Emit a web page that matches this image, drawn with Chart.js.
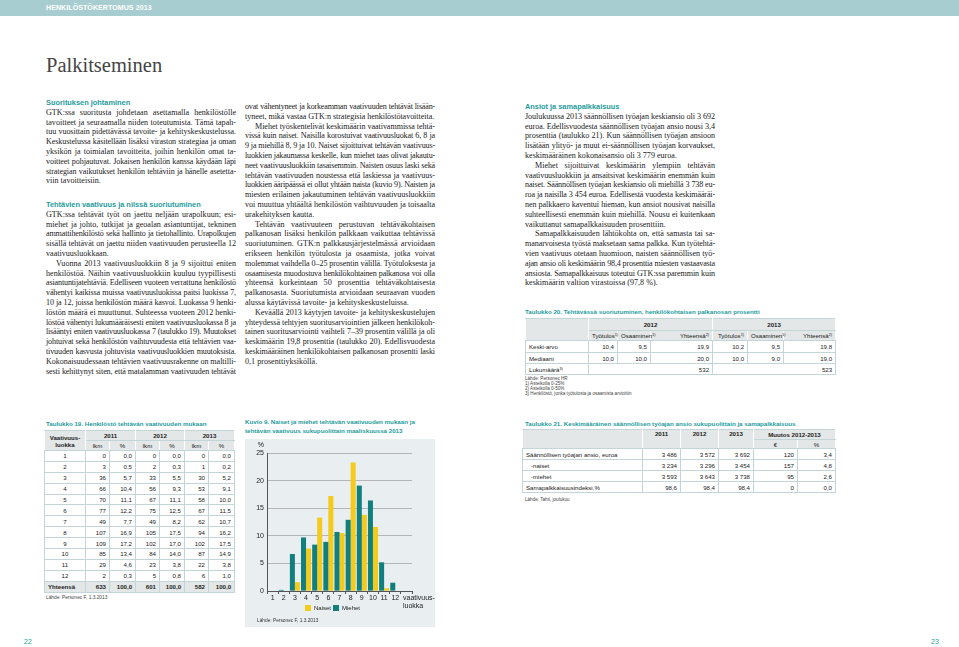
<!DOCTYPE html>
<html lang="fi">
<head>
<meta charset="utf-8">
<title>Palkitseminen</title>
<script src="https://cdn.jsdelivr.net/npm/chart.js@4.4.1/dist/chart.umd.min.js"></script>
<style>
  html, body { margin: 0; padding: 0; }
  body { width: 959px; height: 647px; position: relative; overflow: hidden; background: #fff; color: #222; }
  .topbar { position: absolute; left: 0; top: 0; width: 959px; height: 16px; background: #a8cdd0; }
  .topbar span { position: absolute; left: 46px; top: 4px; font: bold 7px "Liberation Sans", Arial, sans-serif; color: #fff; letter-spacing: 0.1px; }
  h1 { position: absolute; left: 46px; top: 54px; margin: 0; font: 20.5px "Liberation Serif", serif; color: #444; font-weight: normal; }
  .col { position: absolute; width: 190px; font: 8.1px/9.8px "Liberation Serif", serif; color: #222; }
  .col h2 { margin: 0; font: bold 7.4px/9.8px "Liberation Sans", Arial, sans-serif; color: #1f9c9c; }
  .l { text-align: justify; text-align-last: justify; }
  .l.e { text-align-last: left; }
  .l.i { text-indent: 10px; }
  .cap { position: absolute; font: bold 6.2px/9px "Liberation Sans", Arial, sans-serif; color: #1f9c9c; }
  table { position: absolute; border-collapse: collapse; table-layout: fixed; font: 6.1px "Liberation Sans", Arial, sans-serif; color: #222; }
  td, th { border: 1px solid #c3d5d6; padding: 0 3px; text-align: right; white-space: nowrap; }
  th { background: #e3e7e7; font-weight: bold; text-align: center; border-left-color: #fff; border-right-color: #fff; }
  th.n { font-weight: normal; }
  th.r { font-weight: normal; text-align: right; }
  td.c { text-align: center; }
  td.t { text-align: left; }
  tr.sum td { background: #e3e7e7; font-weight: bold; }
  sup { font-size: 3.8px; line-height: 0; vertical-align: 2px; }
  .note { position: absolute; font: 4.6px/5.1px "Liberation Sans", Arial, sans-serif; color: #444; }
  .panel { position: absolute; left: 245px; top: 439px; width: 190px; height: 188px; background: #e9eff1; }
  .panel .cw { position: absolute; left: 0; top: 0; width: 190px; height: 182px; }
  .panel .src { position: absolute; left: 12px; top: 179px; font: 4.8px "Liberation Sans", Arial, sans-serif; color: #333; }
  .pn { position: absolute; top: 638px; font: 7px "Liberation Sans Narrow", "Liberation Sans", sans-serif; color: #1f9c9c; }
</style>
</head>
<body>
<div class="topbar"><span>HENKILÖSTÖKERTOMUS 2013</span></div>
<h1>Palkitseminen</h1>

<div class="col" style="left:46px; top:98px;">
  <h2>Suorituksen johtaminen</h2>
  <div class="l">GTK:ssa suoritusta johdetaan asettamalla henkilöstölle</div>
  <div class="l">tavoitteet ja seuraamalla niiden toteutumista. Tämä tapah-</div>
  <div class="l">tuu vuosittain pidettävässä tavoite- ja kehityskeskustelussa.</div>
  <div class="l">Keskustelussa käsitellään lisäksi viraston strategiaa ja oman</div>
  <div class="l">yksikön ja toimialan tavoitteita, joihin henkilön omat ta-</div>
  <div class="l">voitteet pohjautuvat. Jokaisen henkilön kanssa käydään läpi</div>
  <div class="l">strategian vaikutukset henkilön tehtäviin ja hänelle asetetta-</div>
  <div class="l e">viin tavoitteisiin.</div>
</div>

<div class="col" style="left:46px; top:200px;">
  <h2>Tehtävien vaativuus ja niissä suoriutuminen</h2>
  <div class="l">GTK:ssa tehtävät työt on jaettu neljään urapolkuun; esi-</div>
  <div class="l">miehet ja johto, tutkijat ja geoalan asiantuntijat, tekninen</div>
  <div class="l">ammattihenkilöstö sekä hallinto ja tietohallinto. Urapolkujen</div>
  <div class="l">sisällä tehtävät on jaettu niiden vaativuuden perusteella 12</div>
  <div class="l e">vaativuusluokkaan.</div>
  <div class="l i">Vuonna 2013 vaativuusluokkiin 8 ja 9 sijoittui eniten</div>
  <div class="l">henkilöstöä. Näihin vaativuusluokkiin kuuluu tyypillisesti</div>
  <div class="l">asiantuntijatehtäviä. Edelliseen vuoteen verrattuna henkilöstö</div>
  <div class="l">vähentyi kaikissa muissa vaativuusluokissa paitsi luokissa 7,</div>
  <div class="l">10 ja 12, joissa henkilöstön määrä kasvoi. Luokassa 9 henki-</div>
  <div class="l">löstön määrä ei muuttunut. Suhteessa vuoteen 2012 henki-</div>
  <div class="l">löstöä vähentyi lukumääräisesti eniten vaativuusluokassa 8 ja</div>
  <div class="l">lisääntyi eniten vaativuusluokassa 7 (taulukko 19). Muutokset</div>
  <div class="l">johtuivat sekä henkilöstön vaihtuvuudesta että tehtävien vaa-</div>
  <div class="l">tivuuden kasvusta johtuvista vaativuusluokkien muutoksista.</div>
  <div class="l">Kokonaisuudessaan tehtävien vaativuusrakenne on maltilli-</div>
  <div class="l">sesti kehittynyt siten, että matalamman vaativuuden tehtävät</div>
</div>

<div class="col" style="left:245px; top:102px;">
  <div class="l">ovat vähentyneet ja korkeamman vaativuuden tehtävät lisään-</div>
  <div class="l e">tyneet, mikä vastaa GTK:n strategisia henkilöstötavoitteita.</div>
  <div class="l i">Miehet työskentelivät keskimäärin vaativammissa tehtä-</div>
  <div class="l">vissä kuin naiset. Naisilla korostuivat vaativuusluokat 6, 8 ja</div>
  <div class="l">9 ja miehillä 8, 9 ja 10. Naiset sijoittuivat tehtävän vaativuus-</div>
  <div class="l">luokkien jakaumassa keskelle, kun miehet taas olivat jakautu-</div>
  <div class="l">neet vaativuusluokkiin tasaisemmin. Naisten osuus laski sekä</div>
  <div class="l">tehtävän vaativuuden noustessa että laskiessa ja vaativuus-</div>
  <div class="l">luokkien ääripäässä ei ollut yhtään naista (kuvio 9). Naisten ja</div>
  <div class="l">miesten erilainen jakautuminen tehtävän vaativuusluokkiin</div>
  <div class="l">voi muuttua yhtäältä henkilöstön vaihtuvuuden ja toisaalta</div>
  <div class="l e">urakehityksen kautta.</div>
  <div class="l i">Tehtävän vaativuuteen perustuvan tehtäväkohtaisen</div>
  <div class="l">palkanosan lisäksi henkilön palkkaan vaikuttaa tehtävissä</div>
  <div class="l">suoriutuminen. GTK:n palkkausjärjestelmässä arvioidaan</div>
  <div class="l">erikseen henkilön työtulosta ja osaamista, jotka voivat</div>
  <div class="l">molemmat vaihdella 0–25 prosentin välillä. Työtuloksesta ja</div>
  <div class="l">osaamisesta muodostuva henkilökohtainen palkanosa voi olla</div>
  <div class="l">yhteensä korkeintaan 50 prosenttia tehtäväkohtaisesta</div>
  <div class="l">palkanosasta. Suoriutumista arvioidaan seuraavan vuoden</div>
  <div class="l e">alussa käytävissä tavoite- ja kehityskeskusteluissa.</div>
  <div class="l i">Keväällä 2013 käytyjen tavoite- ja kehityskeskustelujen</div>
  <div class="l">yhteydessä tehtyjen suoritusarviointien jälkeen henkilökoh-</div>
  <div class="l">tainen suoritusarviointi vaihteli 7–39 prosentin välillä ja oli</div>
  <div class="l">keskimäärin 19,8 prosenttia (taulukko 20). Edellisvuodesta</div>
  <div class="l">keskimääräinen henkilökohtaisen palkanosan prosentti laski</div>
  <div class="l e">0,1 prosenttiyksiköllä.</div>
</div>

<div class="col" style="left:525px; top:102px;">
  <h2>Ansiot ja samapalkkaisuus</h2>
  <div class="l">Joulukuussa 2013 säännöllisen työajan keskiansio oli 3 692</div>
  <div class="l">euroa. Edellisvuodesta säännöllisen työajan ansio nousi 3,4</div>
  <div class="l">prosenttia (taulukko 21). Kun säännöllisen työajan ansioon</div>
  <div class="l">lisätään ylityö- ja muut ei-säännöllisen työajan korvaukset,</div>
  <div class="l e">keskimääräinen kokonaisansio oli 3 779 euroa.</div>
  <div class="l i">Miehet sijoittuivat keskimäärin ylempiin tehtävän</div>
  <div class="l">vaativuusluokkiin ja ansaitsivat keskimäärin enemmän kuin</div>
  <div class="l">naiset. Säännöllisen työajan keskiansio oli miehillä 3 738 eu-</div>
  <div class="l">roa ja naisilla 3 454 euroa. Edellisestä vuodesta keskimääräi-</div>
  <div class="l">nen palkkaero kaventui hieman, kun ansiot nousivat naisilla</div>
  <div class="l">suhteellisesti enemmän kuin miehillä. Nousu ei kuitenkaan</div>
  <div class="l e">vaikuttanut samapalkkaisuuden prosenttiin.</div>
  <div class="l i">Samapalkkaisuuden lähtökohta on, että samasta tai sa-</div>
  <div class="l">manarvoisesta työstä maksetaan sama palkka. Kun työtehtä-</div>
  <div class="l">vien vaativuus otetaan huomioon, naisten säännöllisen työ-</div>
  <div class="l">ajan ansio oli keskimäärin 98,4 prosenttia miesten vastaavasta</div>
  <div class="l">ansiosta. Samapalkkaisuus toteutui GTK:ssa paremmin kuin</div>
  <div class="l e">keskimäärin valtion virastoissa (97,8 %).</div>
</div>

<!-- Taulukko 20 -->
<div class="cap" style="left:525px; top:307px;">Taulukko 20. Tehtävässä suoriutuminen, henkilökohtaisen palkanosan prosentti</div>
<table style="left:525px; top:318px; width:310px;">
  <colgroup><col style="width:63px"><col style="width:29px"><col style="width:33px"><col style="width:62px"><col style="width:35px"><col style="width:36px"><col style="width:52px"></colgroup>
  <tr style="height:12px"><th rowspan="2"></th><th colspan="3">2012</th><th colspan="3">2013</th></tr>
  <tr style="height:10px"><th class="r">Työtulos<sup>1)</sup></th><th class="r">Osaaminen<sup>1)</sup></th><th class="r">Yhteensä<sup>2)</sup></th><th class="r">Työtulos<sup>1)</sup></th><th class="r">Osaaminen<sup>1)</sup></th><th class="r">Yhteensä<sup>2)</sup></th></tr>
  <tr style="height:12px"><td class="t">Keski-arvo</td><td>10,4</td><td>9,5</td><td>19,9</td><td>10,2</td><td>9,5</td><td>19,8</td></tr>
  <tr style="height:11px"><td class="t">Mediaani</td><td>10,0</td><td>10,0</td><td>20,0</td><td>10,0</td><td>9,0</td><td>19,0</td></tr>
  <tr style="height:11px"><td class="t">Lukumäärä<sup>3)</sup></td><td colspan="3">532</td><td colspan="3">523</td></tr>
</table>
<div class="note" style="left:525px; top:376px;">Lähde: Personec HR<br>1) Asteikolla 0-25%<br>2) Asteikolla 0-50%<br>3) Henkilöstö, jonka työtulosta ja osaamista arvioitiin</div>

<!-- Taulukko 19 -->
<div class="cap" style="left:46px; top:419px;">Taulukko 19. Henkilöstö tehtävän vaativuuden mukaan</div>
<table style="left:44px; top:430px; width:190px;">
  <colgroup><col style="width:41px"><col style="width:24px"><col style="width:26px"><col style="width:24px"><col style="width:25px"><col style="width:24px"><col style="width:26px"></colgroup>
  <tr style="height:10px"><th rowspan="2">Vaativuus-<br>luokka</th><th colspan="2">2011</th><th colspan="2">2012</th><th colspan="2">2013</th></tr>
  <tr style="height:10px"><th class="n">lkm</th><th class="n">%</th><th class="n">lkm</th><th class="n">%</th><th class="n">lkm</th><th class="n">%</th></tr>
  <tr style="height:10.9px"><td class="c">1</td><td>0</td><td>0,0</td><td>0</td><td>0,0</td><td>0</td><td>0,0</td></tr>
  <tr style="height:10.9px"><td class="c">2</td><td>3</td><td>0,5</td><td>2</td><td>0,3</td><td>1</td><td>0,2</td></tr>
  <tr style="height:10.9px"><td class="c">3</td><td>36</td><td>5,7</td><td>33</td><td>5,5</td><td>30</td><td>5,2</td></tr>
  <tr style="height:10.9px"><td class="c">4</td><td>66</td><td>10,4</td><td>56</td><td>9,3</td><td>53</td><td>9,1</td></tr>
  <tr style="height:10.9px"><td class="c">5</td><td>70</td><td>11,1</td><td>67</td><td>11,1</td><td>58</td><td>10,0</td></tr>
  <tr style="height:10.9px"><td class="c">6</td><td>77</td><td>12,2</td><td>75</td><td>12,5</td><td>67</td><td>11,5</td></tr>
  <tr style="height:10.9px"><td class="c">7</td><td>49</td><td>7,7</td><td>49</td><td>8,2</td><td>62</td><td>10,7</td></tr>
  <tr style="height:10.9px"><td class="c">8</td><td>107</td><td>16,9</td><td>105</td><td>17,5</td><td>94</td><td>16,2</td></tr>
  <tr style="height:10.9px"><td class="c">9</td><td>109</td><td>17,2</td><td>102</td><td>17,0</td><td>102</td><td>17,5</td></tr>
  <tr style="height:10.9px"><td class="c">10</td><td>85</td><td>13,4</td><td>84</td><td>14,0</td><td>87</td><td>14,9</td></tr>
  <tr style="height:10.9px"><td class="c">11</td><td>29</td><td>4,6</td><td>23</td><td>3,8</td><td>22</td><td>3,8</td></tr>
  <tr style="height:10.9px"><td class="c">12</td><td>2</td><td>0,3</td><td>5</td><td>0,8</td><td>6</td><td>1,0</td></tr>
  <tr class="sum" style="height:11px"><td class="t">Yhteensä</td><td>633</td><td>100,0</td><td>601</td><td>100,0</td><td>582</td><td>100,0</td></tr>
</table>
<div class="note" style="left:46px; top:595px; font-size:4.8px;">Lähde: Personec F, 1.3.2013</div>

<!-- Kuvio 9 -->
<div class="cap" style="left:245px; top:417px;">Kuvio 9. Naiset ja miehet tehtävän vaativuuden mukaan ja<br>tehtävän vaativuus sukupuolittain maaliskuussa 2013</div>
<div class="panel">
  <div class="cw"><canvas id="kuvio9"></canvas></div>
  <div class="src">Lähde: Personec F, 1.3.2013</div>
</div>

<!-- Taulukko 21 -->
<div class="cap" style="left:525px; top:419px;">Taulukko 21. Keskimääräinen säännöllisen työajan ansio sukupuolittain ja samapalkkaisuus</div>
<table style="left:522px; top:429px; width:313px;">
  <colgroup><col style="width:120px"><col style="width:38px"><col style="width:38px"><col style="width:35px"><col style="width:44px"><col style="width:38px"></colgroup>
  <tr style="height:10px"><th rowspan="2"></th><th rowspan="2" style="vertical-align:top">2011</th><th rowspan="2" style="vertical-align:top">2012</th><th rowspan="2" style="vertical-align:top">2013</th><th colspan="2">Muutos 2012-2013</th></tr>
  <tr style="height:9px"><th class="n">€</th><th class="n">%</th></tr>
  <tr style="height:11px"><td class="t">Säännöllisen työajan ansio, euroa</td><td>3 486</td><td>3 572</td><td>3 692</td><td>120</td><td>3,4</td></tr>
  <tr style="height:11px"><td class="t" style="padding-left:8px">-naiset</td><td>3 234</td><td>3 296</td><td>3 454</td><td>157</td><td>4,8</td></tr>
  <tr style="height:11px"><td class="t" style="padding-left:8px">-miehet</td><td>3 593</td><td>3 643</td><td>3 738</td><td>95</td><td>2,6</td></tr>
  <tr style="height:11px"><td class="t">Samapalkkaisuusindeksi,%</td><td>98,6</td><td>98,4</td><td>98,4</td><td>0</td><td>0,0</td></tr>
</table>
<div class="note" style="left:525px; top:497px;">Lähde: Tahti, joulukuu</div>

<div class="pn" style="left:24px;">22</div>
<div class="pn" style="left:931px;">23</div>

<script>
// Kuvio 9: osuus (%) vaativuusluokittain
const classes = ["1", "2", "3", "4", "5", "6", "7", "8", "9", "10", "11", "12"];
const naiset = [0, 0, 1.6, 7.7, 13.3, 17.2, 10.5, 23.3, 13.8, 11.6, 0.5, 0];
const miehet = [0, 0.2, 6.7, 9.7, 8.4, 8.9, 10.7, 12.9, 19.1, 16.4, 5.2, 1.5];
const yTicks = [0, 5, 10, 15, 20, 25];
const xAxisNote = ["vaativuus-", "luokka"];

// fit each justified line onto one row
document.querySelectorAll(".l").forEach(el => {
  let ls = 0;
  while (el.offsetHeight > 11 && ls > -1.5) {
    ls -= 0.05;
    el.style.letterSpacing = ls + "px";
  }
});

Chart.defaults.font.family = '"Liberation Sans", Arial, sans-serif';
Chart.defaults.color = "#222";

// "%" above the y axis and the class label at the right end of the x axis
const axisNotes = {
  id: "axisNotes",
  afterDraw(chart) {
    const { ctx, scales: { x, y } } = chart;
    ctx.save();
    ctx.font = '7px "Liberation Sans", Arial, sans-serif';
    ctx.fillStyle = "#222";
    ctx.textBaseline = "middle";
    ctx.textAlign = "right";
    ctx.fillText("%", y.right - 3, y.top - 8);
    ctx.textAlign = "left";
    ctx.fillText(xAxisNote[0], x.right - 9, x.top + 7);
    ctx.fillText(xAxisNote[1], x.right - 9, x.top + 15);
    ctx.restore();
  }
};

new Chart(document.getElementById("kuvio9"), {
  type: "bar",
  data: {
    labels: [...classes, ""],
    datasets: [
      { label: "Miehet", data: miehet, backgroundColor: "#127f7f" },
      { label: "Naiset", data: naiset, backgroundColor: "#f4ca1b" }
    ]
  },
  options: {
    responsive: true,
    maintainAspectRatio: false,
    animation: false,
    datasets: { bar: { barPercentage: 1, categoryPercentage: 0.9, borderWidth: 0 } },
    layout: { padding: { left: 8, top: 14, right: 23, bottom: 0 } },
    plugins: {
      legend: {
        position: "bottom",
        labels: {
          boxWidth: 6, boxHeight: 6, padding: 2,
          font: { size: 6 },
          sort: (a, b) => b.datasetIndex - a.datasetIndex
        }
      },
      tooltip: { enabled: false }
    },
    scales: {
      x: {
        grid: { display: true, drawOnChartArea: false, tickLength: 3, color: "#555", offset: true },
        border: { color: "#555", width: 1 },
        ticks: { font: { size: 7 }, padding: 0, maxRotation: 0, autoSkip: false },
        afterFit: s => { s.height = 12; }
      },
      y: {
        min: 0, max: 25,
        afterBuildTicks: s => { s.ticks = yTicks.map(v => ({ value: v })); },
        grid: { color: "#9c9c9c", lineWidth: 0.7, drawTicks: false },
        border: { color: "#555", width: 1 },
        ticks: { font: { size: 7 }, padding: 3 },
        afterFit: s => { s.width = 14; }
      }
    }
  },
  plugins: [axisNotes]
});
</script>
</body>
</html>
